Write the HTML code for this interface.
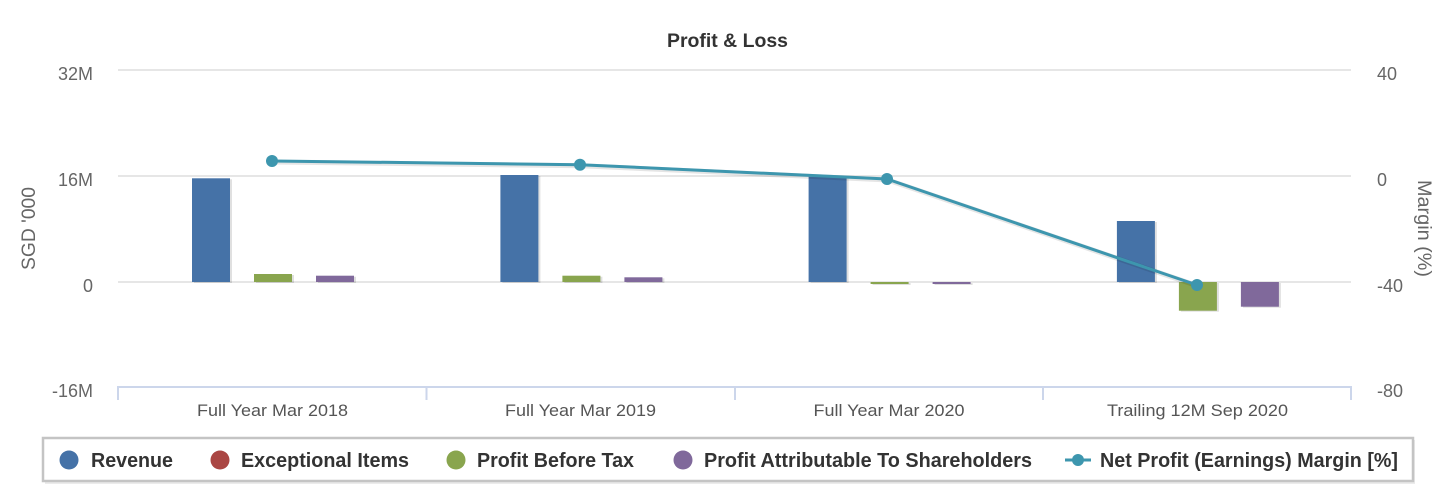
<!DOCTYPE html>
<html><head><meta charset="utf-8"><style>
html,body{margin:0;padding:0;background:#fff;width:1449px;height:489px;overflow:hidden}
svg{display:block;font-family:"Liberation Sans",Arial,sans-serif}
</style></head><body>
<svg width="1449" height="489" viewBox="0 0 1449 489" xmlns="http://www.w3.org/2000/svg">
<rect width="1449" height="489" fill="#fff"/>
<text x="727.5" y="47" text-anchor="middle" font-size="19.5" font-weight="bold" fill="#333" textLength="121" lengthAdjust="spacingAndGlyphs">Profit &amp; Loss</text>
<g stroke="#e6e6e6" stroke-width="2">
<line x1="118" y1="70" x2="1351" y2="70"/>
<line x1="118" y1="176" x2="1351" y2="176"/>
<line x1="118" y1="282" x2="1351" y2="282"/>
</g>
<g stroke="#ccd6eb" stroke-width="2" fill="none">
<line x1="117" y1="387" x2="1352" y2="387"/>
<line x1="118" y1="387" x2="118" y2="400"/>
<line x1="426.5" y1="387" x2="426.5" y2="400"/>
<line x1="735" y1="387" x2="735" y2="400"/>
<line x1="1043" y1="387" x2="1043" y2="400"/>
<line x1="1351" y1="387" x2="1351" y2="400"/>
</g>
<g font-size="18" fill="#666" text-anchor="end">
<text x="93" y="80">32M</text>
<text x="93" y="186">16M</text>
<text x="93" y="292">0</text>
<text x="93" y="397">-16M</text>
</g>
<g font-size="18" fill="#666" text-anchor="start">
<text x="1377" y="80">40</text>
<text x="1377" y="186">0</text>
<text x="1377" y="292">-40</text>
<text x="1377" y="397">-80</text>
</g>
<text transform="translate(35,228.5) rotate(-90)" text-anchor="middle" font-size="19.5" fill="#666" textLength="83" lengthAdjust="spacingAndGlyphs">SGD '000</text>
<text transform="translate(1418,228.5) rotate(90)" text-anchor="middle" font-size="19.5" fill="#666" textLength="97" lengthAdjust="spacingAndGlyphs">Margin (%)</text>
<g font-size="16.5" fill="#555" text-anchor="middle">
<text x="272.5" y="416" textLength="151" lengthAdjust="spacingAndGlyphs">Full Year Mar 2018</text>
<text x="580.5" y="416" textLength="151" lengthAdjust="spacingAndGlyphs">Full Year Mar 2019</text>
<text x="889" y="416" textLength="151" lengthAdjust="spacingAndGlyphs">Full Year Mar 2020</text>
<text x="1197.5" y="416" textLength="181" lengthAdjust="spacingAndGlyphs">Trailing 12M Sep 2020</text>
</g>
<!-- bar shadows -->
<g fill="#000" opacity="0.12">
<rect x="194" y="179.3" width="38" height="103.7"/>
<rect x="256" y="275" width="38" height="8"/>
<rect x="318" y="276.7" width="38" height="6.3"/>
<rect x="502.4" y="176" width="38" height="107"/>
<rect x="564.4" y="276.7" width="38" height="6.3"/>
<rect x="626.4" y="278.3" width="38" height="4.7"/>
<rect x="810.6" y="177.7" width="38" height="105.3"/>
<rect x="872.6" y="283" width="38" height="2"/>
<rect x="934.6" y="283" width="38" height="2"/>
<rect x="1118.9" y="222" width="38" height="61"/>
<rect x="1180.9" y="283" width="38" height="28.7"/>
<rect x="1242.9" y="283" width="38" height="24.7"/>
</g>
<g>
<rect x="192" y="178.3" width="38" height="103.7" fill="#4572A7"/>
<rect x="254" y="274" width="38" height="8" fill="#89A54E"/>
<rect x="316" y="275.7" width="38" height="6.3" fill="#80699B"/>
<rect x="500.4" y="175" width="38" height="107" fill="#4572A7"/>
<rect x="562.4" y="275.7" width="38" height="6.3" fill="#89A54E"/>
<rect x="624.4" y="277.3" width="38" height="4.7" fill="#80699B"/>
<rect x="808.6" y="176.7" width="38" height="105.3" fill="#4572A7"/>
<rect x="870.6" y="282" width="38" height="2" fill="#89A54E"/>
<rect x="932.6" y="282" width="38" height="2" fill="#80699B"/>
<rect x="1116.9" y="221" width="38" height="61" fill="#4572A7"/>
<rect x="1178.9" y="282" width="38" height="28.7" fill="#89A54E"/>
<rect x="1240.9" y="282" width="38" height="24.7" fill="#80699B"/>
</g>
<!-- line -->
<polyline points="273,162 581,165.7 888,180 1198,286" fill="none" stroke="#000" stroke-opacity="0.1" stroke-width="5" stroke-linejoin="round"/>
<polyline points="272,161 580,164.7 887,179 1197,285" fill="none" stroke="#3D96AE" stroke-width="3" stroke-linejoin="round"/>
<g fill="#3D96AE">
<circle cx="272" cy="161" r="6"/>
<circle cx="580" cy="164.7" r="6"/>
<circle cx="887" cy="179" r="6"/>
<circle cx="1197" cy="285" r="6"/>
</g>
<!-- legend -->
<rect x="45" y="440" width="1370" height="44" fill="#000" opacity="0.08"/>
<rect x="43" y="438" width="1370" height="43" fill="#fff" stroke="#c4c4c4" stroke-width="2.5"/>
<circle cx="69" cy="460" r="9.5" fill="#4572A7"/>
<circle cx="220" cy="460" r="9.5" fill="#AA4643"/>
<circle cx="456" cy="460" r="9.5" fill="#89A54E"/>
<circle cx="683" cy="460" r="9.5" fill="#80699B"/>
<line x1="1065" y1="460" x2="1091" y2="460" stroke="#3D96AE" stroke-width="3"/>
<circle cx="1078" cy="460" r="6" fill="#3D96AE"/>
<g font-size="20" font-weight="bold" fill="#333">
<text x="91" y="467" textLength="82" lengthAdjust="spacingAndGlyphs">Revenue</text>
<text x="241" y="467" textLength="168" lengthAdjust="spacingAndGlyphs">Exceptional Items</text>
<text x="477" y="467" textLength="157" lengthAdjust="spacingAndGlyphs">Profit Before Tax</text>
<text x="704" y="467" textLength="328" lengthAdjust="spacingAndGlyphs">Profit Attributable To Shareholders</text>
<text x="1100" y="467" textLength="298" lengthAdjust="spacingAndGlyphs">Net Profit (Earnings) Margin [%]</text>
</g>
</svg>
</body></html>
